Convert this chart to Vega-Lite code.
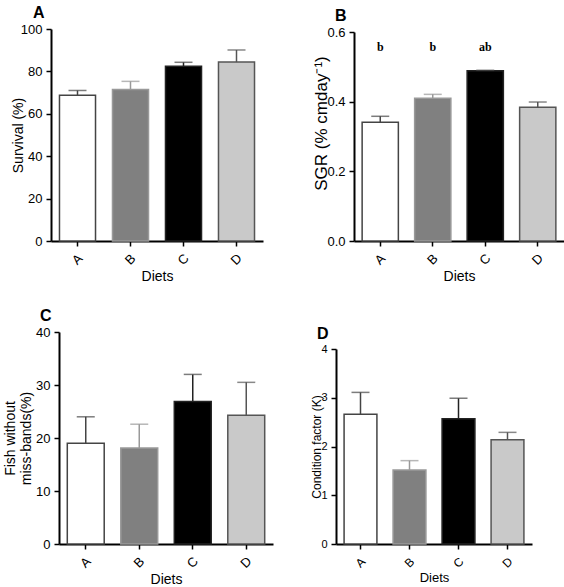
{
  "$schema": "https://vega.github.io/schema/vega-lite/v6.json",
  "padding": {"left": 3, "top": 5, "right": 0, "bottom": 0},
  "background": "white",
  "config": {
    "view": {"stroke": null},
    "font": "Liberation Sans",
    "axis": {"grid": false, "domainColor": "#000", "domainWidth": 2, "tickColor": "#000", "tickWidth": 1.5, "tickSize": 5, "labelColor": "#000", "labelFont": "Liberation Sans", "labelFontSize": 13, "labelPadding": 4, "titleFont": "Liberation Sans", "titleFontSize": 14, "titleFontWeight": "normal", "titleColor": "#000"},
    "axisX": {"labelPadding": 13, "titlePadding": 2, "labelAngle": -45, "labelAlign": "center", "labelBaseline": "middle"},
    "axisY": {"titlePadding": 2},
    "title": {"anchor": "start", "frame": "group", "fontSize": 16, "fontWeight": "bold", "font": "Liberation Sans", "color": "#000", "offset": 2}
  },
  "datasets": {
    "survival": [
      {"diet": "A", "mean": 68.7, "hi": 71.0},
      {"diet": "B", "mean": 71.5, "hi": 75.3},
      {"diet": "C", "mean": 82.4, "hi": 84.3},
      {"diet": "D", "mean": 84.4, "hi": 90.1}
    ],
    "sgr": [
      {"diet": "A", "mean": 0.341, "hi": 0.358, "sig": "b"},
      {"diet": "B", "mean": 0.410, "hi": 0.421, "sig": "b"},
      {"diet": "C", "mean": 0.489, "hi": 0.490, "sig": "ab"},
      {"diet": "D", "mean": 0.384, "hi": 0.399, "sig": ""}
    ],
    "fish": [
      {"diet": "A", "mean": 19.0, "hi": 24.0},
      {"diet": "B", "mean": 18.1, "hi": 22.6},
      {"diet": "C", "mean": 26.9, "hi": 32.0},
      {"diet": "D", "mean": 24.3, "hi": 30.5}
    ],
    "k": [
      {"diet": "A", "mean": 2.66, "hi": 3.11},
      {"diet": "B", "mean": 1.52, "hi": 1.71},
      {"diet": "C", "mean": 2.57, "hi": 2.99},
      {"diet": "D", "mean": 2.14, "hi": 2.29}
    ]
  },
  "spacing": 24,
  "vconcat": [
    {
      "spacing": 49,
      "hconcat": [
        {
          "width": 212, "height": 212,
          "title": {"text": "A", "dx": -18},
          "data": {"name": "survival"},
          "encoding": {"x": {"field": "diet", "type": "nominal", "scale": {"paddingInner": 0.32, "paddingOuter": 0.16}, "axis": {"title": "Diets", "labelAngle": -45}}},
          "layer": [
            {"mark": {"type": "bar", "strokeWidth": 1.5},
             "encoding": {
               "y": {"field": "mean", "type": "quantitative", "scale": {"domain": [0, 100], "nice": false}, "axis": {"title": "Survival (%)", "values": [0, 20, 40, 60, 80, 100], "titlePadding": -5}},
               "fill": {"field": "diet", "type": "nominal", "scale": {"domain": ["A", "B", "C", "D"], "range": ["#ffffff", "#808080", "#000000", "#c9c9c9"]}, "legend": null},
               "stroke": {"field": "diet", "type": "nominal", "scale": {"domain": ["A", "B", "C", "D"], "range": ["#444444", "#999999", "#222222", "#555555"]}, "legend": null}}},
            {"mark": {"type": "rule", "strokeWidth": 1.5},
             "encoding": {"y": {"field": "mean", "type": "quantitative"}, "y2": {"field": "hi"}, "stroke": {"field": "diet", "type": "nominal", "legend": null}}},
            {"mark": {"type": "tick", "size": 18, "thickness": 1.5},
             "encoding": {"y": {"field": "hi", "type": "quantitative"}, "color": {"field": "diet", "type": "nominal", "scale": {"domain": ["A", "B", "C", "D"], "range": ["#444444", "#999999", "#444444", "#555555"]}, "legend": null}}}
          ]
        },
        {
          "width": 210, "height": 212,
          "title": {"text": "B", "dx": -19},
          "data": {"name": "sgr"},
          "encoding": {"x": {"field": "diet", "type": "nominal", "scale": {"paddingInner": 0.31, "paddingOuter": 0.155}, "axis": {"title": "Diets", "labelAngle": -45}}},
          "layer": [
            {"mark": {"type": "bar", "strokeWidth": 1.5},
             "encoding": {
               "y": {"field": "mean", "type": "quantitative", "scale": {"domain": [0, 0.6], "nice": false, "range": [212, 3]}, "axis": {"title": "SGR (% cmday⁻¹)", "values": [0, 0.2, 0.4, 0.6], "format": ".1f", "titleFontSize": 17, "titlePadding": -4, "titleY": 94}},
               "fill": {"field": "diet", "type": "nominal", "scale": {"domain": ["A", "B", "C", "D"], "range": ["#ffffff", "#808080", "#000000", "#c9c9c9"]}, "legend": null},
               "stroke": {"field": "diet", "type": "nominal", "scale": {"domain": ["A", "B", "C", "D"], "range": ["#222222", "#999999", "#222222", "#555555"]}, "legend": null}}},
            {"mark": {"type": "rule", "strokeWidth": 1.5},
             "encoding": {"y": {"field": "mean", "type": "quantitative"}, "y2": {"field": "hi"}, "stroke": {"field": "diet", "type": "nominal", "legend": null}}},
            {"mark": {"type": "tick", "size": 18, "thickness": 1.5},
             "encoding": {"y": {"field": "hi", "type": "quantitative"}, "color": {"field": "diet", "type": "nominal", "scale": {"domain": ["A", "B", "C", "D"], "range": ["#444444", "#999999", "#222222", "#555555"]}, "legend": null}}},
            {"mark": {"type": "text", "font": "Liberation Serif", "fontWeight": "bold", "fontSize": 12, "color": "#000"},
             "encoding": {"y": {"datum": 0.558}, "text": {"field": "sig"}}}
          ]
        }
      ]
    },
    {
      "spacing": 37,
      "hconcat": [
        {
          "width": 222, "height": 212,
          "title": {"text": "C", "dx": -11},
          "data": {"name": "fish"},
          "encoding": {"x": {"field": "diet", "type": "nominal", "scale": {"paddingInner": 0.31, "paddingOuter": 0.155, "range": [8, 222]}, "axis": {"title": "Diets", "labelAngle": -45}}},
          "layer": [
            {"mark": {"type": "bar", "strokeWidth": 1.5},
             "encoding": {
               "y": {"field": "mean", "type": "quantitative", "scale": {"domain": [0, 40], "nice": false}, "axis": {"title": ["Fish without", "miss-bands(%)"], "values": [0, 10, 20, 30, 40], "offset": -8}},
               "fill": {"field": "diet", "type": "nominal", "scale": {"domain": ["A", "B", "C", "D"], "range": ["#ffffff", "#808080", "#000000", "#c9c9c9"]}, "legend": null},
               "stroke": {"field": "diet", "type": "nominal", "scale": {"domain": ["A", "B", "C", "D"], "range": ["#555555", "#999999", "#222222", "#555555"]}, "legend": null}}},
            {"mark": {"type": "rule", "strokeWidth": 1.5},
             "encoding": {"y": {"field": "mean", "type": "quantitative"}, "y2": {"field": "hi"}, "stroke": {"field": "diet", "type": "nominal", "legend": null}}},
            {"mark": {"type": "tick", "size": 18, "thickness": 1.5},
             "encoding": {"y": {"field": "hi", "type": "quantitative"}, "color": {"field": "diet", "type": "nominal", "scale": {"domain": ["A", "B", "C", "D"], "range": ["#333333", "#999999", "#333333", "#555555"]}, "legend": null}}}
          ]
        },
        {
          "width": 196, "height": 212,
          "title": {"text": "D", "dx": -19, "dy": 12},
          "data": {"name": "k"},
          "encoding": {"x": {"field": "diet", "type": "nominal", "scale": {"paddingInner": 0.33, "paddingOuter": 0.165}, "axis": {"title": "Diets", "labelAngle": -45, "labelFontSize": 12, "titleFontSize": 13}}},
          "layer": [
            {"mark": {"type": "bar", "strokeWidth": 1.5},
             "encoding": {
               "y": {"field": "mean", "type": "quantitative", "scale": {"domain": [0, 4], "nice": false, "range": [212, 17]}, "axis": {"title": "Condition factor (K)", "values": [0, 1, 2, 3, 4], "format": "d", "labelFontSize": 11, "titleFontSize": 12, "titlePadding": -3}},
               "fill": {"field": "diet", "type": "nominal", "scale": {"domain": ["A", "B", "C", "D"], "range": ["#ffffff", "#808080", "#000000", "#c9c9c9"]}, "legend": null},
               "stroke": {"field": "diet", "type": "nominal", "scale": {"domain": ["A", "B", "C", "D"], "range": ["#555555", "#999999", "#222222", "#555555"]}, "legend": null}}},
            {"mark": {"type": "rule", "strokeWidth": 1.5},
             "encoding": {"y": {"field": "mean", "type": "quantitative"}, "y2": {"field": "hi"}, "stroke": {"field": "diet", "type": "nominal", "legend": null}}},
            {"mark": {"type": "tick", "size": 18, "thickness": 1.5},
             "encoding": {"y": {"field": "hi", "type": "quantitative"}, "color": {"field": "diet", "type": "nominal", "scale": {"domain": ["A", "B", "C", "D"], "range": ["#555555", "#999999", "#111111", "#111111"]}, "legend": null}}}
          ]
        }
      ]
    }
  ]
}
